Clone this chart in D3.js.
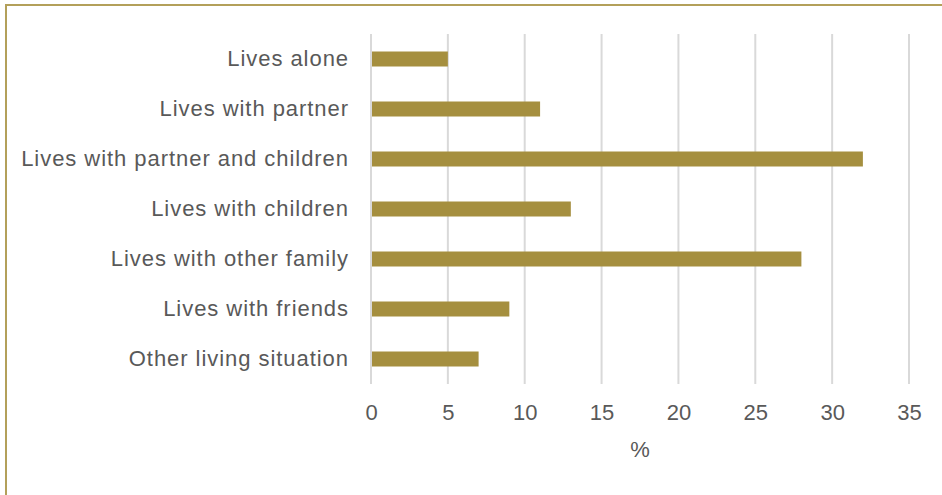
<!DOCTYPE html>
<html>
<head>
<meta charset="utf-8">
<script src="https://cdn.jsdelivr.net/npm/d3@7"></script>
<style>
  html, body { margin: 0; padding: 0; background: #fff; }
  svg { display: block; }
  text { font-family: "Liberation Sans", Arial, sans-serif; fill: #595959; }
</style>
</head>
<body>
<script>
// Living situation shares (%)
const categories = [
  "Lives alone",
  "Lives with partner",
  "Lives with partner and children",
  "Lives with children",
  "Lives with other family",
  "Lives with friends",
  "Other living situation"
];
const values = [5, 11, 32, 13, 28, 9, 7];
const tickValues = [0, 5, 10, 15, 20, 25, 30, 35];
const axisTitle = "%";

const width = 942, height = 495;
const margin = { top: 34, right: 33, bottom: 111, left: 371 };
const fontStack = "'Liberation Sans', Arial, sans-serif";

const svg = d3.select("body").append("svg")
  .attr("width", width)
  .attr("height", height);

// Frame lines along the top and left
svg.append("line").attr("x1", 5).attr("x2", width).attr("y1", 5).attr("y2", 5)
  .attr("stroke", "#b3a05a").attr("stroke-width", 2);
svg.append("line").attr("x1", 6).attr("x2", 6).attr("y1", 4).attr("y2", height)
  .attr("stroke", "#b3a05a").attr("stroke-width", 2);

const x = d3.scaleLinear()
  .domain([0, 35])
  .range([margin.left, width - margin.right]);

const y = d3.scaleBand()
  .domain(categories)
  .range([margin.top, height - margin.bottom])
  .paddingInner(0.7)
  .paddingOuter(0.35);

// Vertical gridlines
svg.append("g")
  .selectAll("line")
  .data(tickValues)
  .join("line")
  .attr("x1", d => x(d)).attr("x2", d => x(d))
  .attr("y1", margin.top).attr("y2", height - margin.bottom)
  .attr("stroke", "#d9d9d9").attr("stroke-width", 2);

// Bars
svg.append("g")
  .selectAll("rect")
  .data(values)
  .join("rect")
  .attr("x", x(0) + 1)
  .attr("y", (d, i) => y(categories[i]))
  .attr("width", d => x(d) - x(0) - 1)
  .attr("height", y.bandwidth())
  .attr("fill", "#a58f3f");

// Category axis
const yAxis = svg.append("g")
  .attr("transform", `translate(${margin.left - 22},0)`)
  .call(d3.axisLeft(y).tickSize(0).tickPadding(0));
yAxis.select(".domain").remove();
yAxis.selectAll("text")
  .attr("font-size", 22)
  .attr("letter-spacing", 0.95)
  .style("font-family", fontStack)
  .attr("fill", "#595959");

// Value axis
const xAxis = svg.append("g")
  .attr("transform", `translate(0,${height - margin.bottom})`)
  .call(d3.axisBottom(x).tickValues(tickValues).tickSize(0).tickPadding(20));
xAxis.select(".domain").remove();
xAxis.selectAll("text")
  .attr("font-size", 22)
  .style("font-family", fontStack)
  .attr("fill", "#595959");

// Axis title
svg.append("text")
  .attr("x", (x(0) + x(35)) / 2)
  .attr("y", 457)
  .attr("text-anchor", "middle")
  .attr("font-size", 22)
  .text(axisTitle);
</script>
</body>
</html>
